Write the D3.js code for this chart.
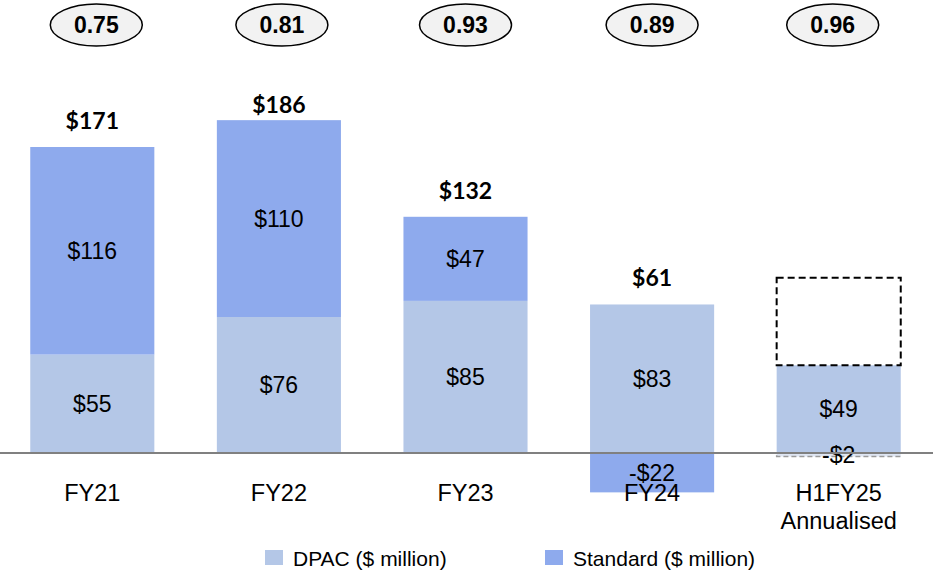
<!DOCTYPE html>
<html><head><meta charset="utf-8">
<script src="https://cdn.jsdelivr.net/npm/d3@7"></script>
<style>body{margin:0;background:#fff}svg{display:block}</style>
</head><body>
<svg id="c" width="939" height="570"></svg>
<script>
const categories = ["FY21","FY22","FY23","FY24","H1FY25\nAnnualised"];
const dpac = [55, 76, 85, 83, 49];
const standard = [116, 110, 47, -22, -2];
const totals = ["$171","$186","$132","$61",null];
const ratios = ["0.75","0.81","0.93","0.89","0.96"];
const annualisedExtra = [null,null,null,null,49];

const svg = d3.select("#c");
const x = d3.scaleBand().domain(categories).range([-1, 932]).paddingInner(0.335).paddingOuter(0.1675);
const y = d3.scaleLinear().domain([0, 171]).range([453, 147]);
const cDpac = "#b4c7e7", cStd = "#8eaaed";
const F = "Liberation Sans, Arial, sans-serif";

categories.forEach((c, i) => {
  const x0 = x(c), w = x.bandwidth(), cx = x0 + w/2;
  const isLast = i === categories.length - 1;
  // DPAC
  svg.append("rect").attr("x", x0).attr("width", w)
    .attr("y", y(dpac[i])).attr("height", y(0) - y(dpac[i])).attr("fill", cDpac);
  // Standard
  const s0 = standard[i] >= 0 ? dpac[i] : 0;
  const s1 = s0 + standard[i];
  const top = Math.min(y(s0), y(s1)), h = Math.abs(y(s0) - y(s1));
  if (isLast) {
    svg.append("rect").attr("x", x0).attr("width", w).attr("y", top).attr("height", h)
      .attr("fill", "#dfe6f3").attr("stroke", "#9a9a9a").attr("stroke-width", 1.5).attr("stroke-dasharray", "5,3");
  } else {
    svg.append("rect").attr("x", x0).attr("width", w).attr("y", top).attr("height", h).attr("fill", cStd);
  }
  if (annualisedExtra[i] != null) {
    svg.append("rect").attr("x", x0).attr("width", w)
      .attr("y", y(dpac[i] + annualisedExtra[i])).attr("height", y(dpac[i]) - y(dpac[i] + annualisedExtra[i]))
      .attr("fill", "none").attr("stroke", "#000").attr("stroke-width", 2).attr("stroke-dasharray", "7,4");
  }
  // value labels
  svg.append("text").attr("x", cx).attr("y", (y(0) + y(dpac[i]))/2 + 8)
    .attr("text-anchor", "middle").attr("font-family", F).attr("font-size", 23).text("$" + dpac[i]);
  const sLabel = standard[i] < 0 ? "-$" + Math.abs(standard[i]) : "$" + standard[i];
  svg.append("text").attr("x", cx).attr("y", top + h/2 + 8)
    .attr("text-anchor", "middle").attr("font-family", F).attr("font-size", 23).text(sLabel);
  // totals
  if (totals[i]) {
    const tv = Math.max(dpac[i], dpac[i] + standard[i]);
    svg.append("text").attr("x", cx).attr("y", Math.max(y(tv) - 18, 113))
      .attr("text-anchor", "middle").attr("font-family", "Lato, sans-serif").attr("font-weight", "bold")
      .attr("font-size", 23).text(totals[i]);
  }
  // ellipse ratios
  const ex = cx + (i === 4 ? -6 : i === 0 ? 4 : i === 1 ? 3 : 0);
  svg.append("ellipse").attr("cx", ex).attr("cy", 25).attr("rx", 46).attr("ry", 21)
    .attr("fill", "#f2f2f2").attr("stroke", "#000").attr("stroke-width", 1.5);
  svg.append("text").attr("x", ex).attr("y", 33).attr("text-anchor", "middle")
    .attr("font-family", F).attr("font-weight", "bold").attr("font-size", 23).text(ratios[i]);
  // category labels
  c.split("\n").forEach((line, k) => {
    svg.append("text").attr("x", cx).attr("y", 501 + k*28).attr("text-anchor", "middle")
      .attr("font-family", F).attr("font-size", 23.5).text(line);
  });
});

// baseline
svg.append("line").attr("x1", 0).attr("x2", 933).attr("y1", y(0)).attr("y2", y(0))
  .attr("stroke", "#808080").attr("stroke-width", 2);

// legend
const legend = [["DPAC ($ million)", cDpac, 265], ["Standard ($ million)", cStd, 545]];
legend.forEach(([t, col, lx]) => {
  svg.append("rect").attr("x", lx).attr("y", 550).attr("width", 18).attr("height", 15).attr("fill", col);
  svg.append("text").attr("x", lx + 28).attr("y", 566).attr("font-family", F).attr("font-size", 21).text(t);
});
</script>
</body></html>
